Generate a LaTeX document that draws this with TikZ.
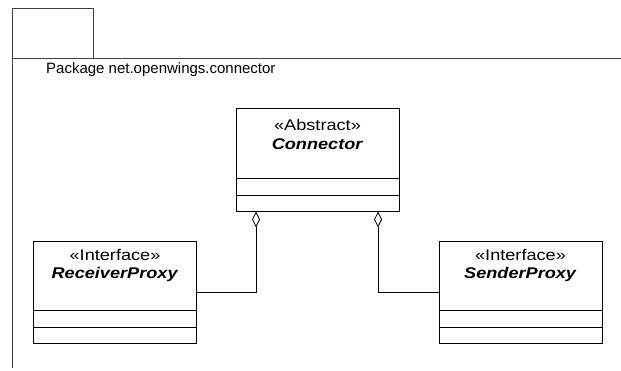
\documentclass[tikz,border=0pt]{standalone}
\usepackage{fontspec}
\setmainfont{Liberation Sans}
\newfontfamily\umlfont[FakeStretch=1.17]{Liberation Sans}
\usetikzlibrary{arrows.meta}
\begin{document}
\begin{tikzpicture}[x=1pt,y=-1pt,
		frame/.style={draw=black!75,line width=0.8pt},
		classbox/.style={draw,line width=1pt,minimum width=163pt,minimum height=102pt,inner sep=0pt},
		classname/.style={anchor=north,align=center,inner sep=0pt,font=\umlfont\fontsize{15.5}{18.5}\selectfont},
		aggr/.style={draw,line width=0.8pt,{Diamond[open,length=16pt,width=8pt,line width=0.8pt]}-}]
	\useasboundingbox (0,0) rectangle (621,370);
	\draw[frame] (12,368) -- (12,8) -- (93,8) -- (93,58);
	\draw[frame] (12,58) -- (621,58);
	\node[anchor=west,inner sep=0pt,font=\fontsize{15}{18}\selectfont] (pkg) at (46,70) {Package net.openwings.connector};
	\node[classbox,minimum height=103pt] (conn) at (317.5,159.5) {};
	\node[classbox] (recv) at (115,292) {};
	\node[classbox] (send) at (520.5,292) {};
	\node[classname] (conn-name) at ([yshift=-12]conn.north) {«Abstract»\\ \textbf{\textit{Connector}}};
	\node[classname] (recv-name) at ([yshift=-8.5]recv.north) {«Interface»\\ \textbf{\textit{ReceiverProxy}}};
	\node[classname] (send-name) at ([yshift=-8.5]send.north) {«Interface»\\ \textbf{\textit{SenderProxy}}};
	\foreach \c in {conn,recv,send} {
		\draw[line width=1pt] ([yshift=33]\c.south west) -- ([yshift=33]\c.south east);
		\draw[line width=1pt] ([yshift=16.5]\c.south west) -- ([yshift=16.5]\c.south east);
	}
	\draw[aggr] (conn.south -| 256,0) |- (recv.east);
	\draw[aggr] (conn.south -| 378,0) |- (send.west);
\end{tikzpicture}
\end{document}
